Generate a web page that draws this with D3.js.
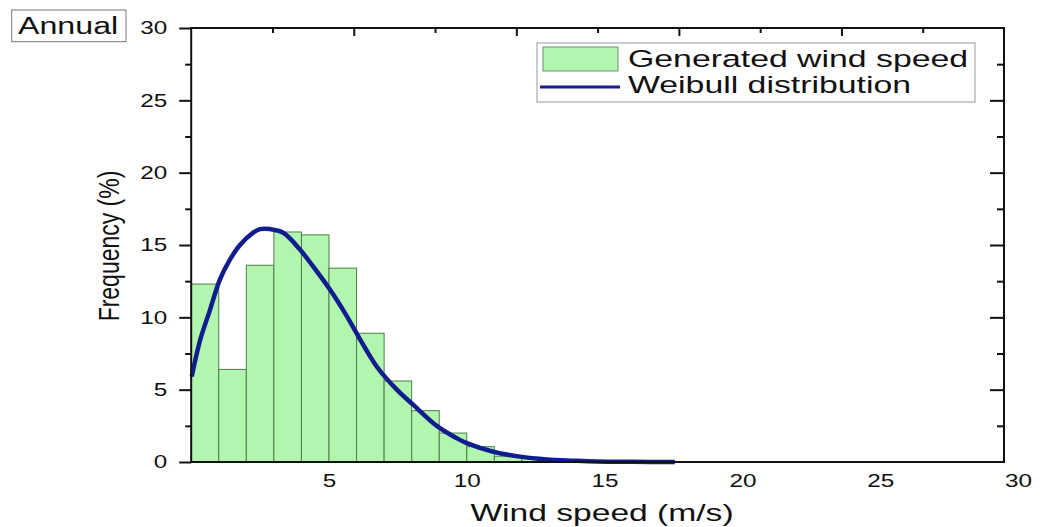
<!DOCTYPE html>
<html><head><meta charset="utf-8">
<script src="https://cdn.jsdelivr.net/npm/d3@7"></script>
<style>body{margin:0;background:#fff} text{font-family:"Liberation Sans",Arial,sans-serif;fill:#111}</style>
</head><body><svg id="c" width="1040" height="527"></svg>
<script>
// ---- data ----
const binStarts = [0,1,2,3,4,5,6,7,8,9,10,11,12,13];
const frequency = [12.3,6.4,13.6,15.9,15.7,13.4,8.9,5.6,3.55,2.0,1.06,0.4,0.25,0.08];
const weibullX = [0.02,0.32,0.68,1.04,1.41,1.77,2.25,2.5,2.86,3.34,3.94,4.43,5.04,5.64,6.12,6.73,7.46,8.06,8.91,9.63,10.0,10.96,11.93,12.9,13.86,14.71,16.0,17.55];
const weibullY = [5.9,8.4,10.5,12.6,14.0,15.0,15.85,16.1,16.1,15.85,14.7,13.5,11.9,10.1,8.5,6.6,5.0,3.95,2.5,1.65,1.3,0.71,0.37,0.18,0.09,0.03,0.01,0.0];
const xTickValues = [5,10,15,20,25,30];
const yTickValues = [0,5,10,15,20,25,30];
const yMinorTicks = [2.5,7.5,12.5,17.5,22.5,27.5];
const topMajor = [2,4,6,8];
const topMinor = [1,3,5,7,9];
const legendLabels = ["Generated wind speed","Weibull distribution"];
const panelLabel = "Annual";
const xTitle = "Wind speed (m/s)";
const yTitle = "Frequency (%)";

// ---- layout ----
const SX = 1.4;
const L = 191.2, R = 1004, T = 28, B = 462;
const svg = d3.select('#c');
const x = d3.scaleLinear().domain([0,30]).range([L,1018]);
const y = d3.scaleLinear().domain([0,30]).range([B,T]);
const xTop = d3.scaleLinear().domain([0,10]).range([L,R]);
const barFill = '#b2f5ae', barStroke = '#4f7d4f', curveColor = '#111c8f';

function stext(g, tx, ty, str, size, anchor, sx){
  return g.append('text').attr('transform',`translate(${tx},${ty}) scale(${sx||SX},1)`)
    .attr('text-anchor',anchor||'start').style('font-size',size+'px').text(str);
}

// bars
svg.append('g').selectAll('rect').data(binStarts).join('rect')
  .attr('x',(d)=>x(d)).attr('width',(d)=>x(d+1)-x(d))
  .attr('y',(d,i)=>y(frequency[i])).attr('height',(d,i)=>y(0)-y(frequency[i]))
  .attr('fill',barFill).attr('stroke',barStroke).attr('stroke-width',1);

// curve
const line = d3.line().x((d,i)=>x(weibullX[i])).y((d)=>y(d)).curve(d3.curveCatmullRom);
svg.append('path').datum(weibullY).attr('d',line).attr('fill','none')
  .attr('stroke',curveColor).attr('stroke-width',4.5).attr('stroke-linejoin','round');

// frame
svg.append('rect').attr('x',L).attr('y',T).attr('width',R-L).attr('height',B-T)
  .attr('fill','none').attr('stroke','#111').attr('stroke-width',2);

// left axis
const gl = svg.append('g').attr('transform',`translate(${L},0)`)
  .call(d3.axisLeft(y).tickValues(yTickValues).tickSize(12).tickPadding(12));
gl.select('.domain').remove();
gl.selectAll('line').attr('stroke','#111').attr('stroke-width',2);
gl.selectAll('text').style('font-size','18px').style('font-family','"Liberation Sans",Arial,sans-serif')
  .attr('fill','#111').attr('transform',`scale(1.35,1)`).attr('x',-24/1.35);
const glm = svg.append('g').attr('transform',`translate(${L},0)`)
  .call(d3.axisLeft(y).tickValues(yMinorTicks).tickSize(6).tickFormat(''));
glm.select('.domain').remove();
glm.selectAll('line').attr('stroke','#111').attr('stroke-width',2);

// right axis (inward)
const gr = svg.append('g').attr('transform',`translate(${R},0)`)
  .call(d3.axisLeft(y).tickValues(yTickValues.slice(1,-1)).tickSize(14).tickFormat(''));
gr.select('.domain').remove();
gr.selectAll('line').attr('stroke','#111').attr('stroke-width',2);
const grm = svg.append('g').attr('transform',`translate(${R},0)`)
  .call(d3.axisLeft(y).tickValues(yMinorTicks).tickSize(7).tickFormat(''));
grm.select('.domain').remove();
grm.selectAll('line').attr('stroke','#111').attr('stroke-width',2);

// top axis (inward)
const gt = svg.append('g').attr('transform',`translate(0,${T})`)
  .call(d3.axisBottom(xTop).tickValues(topMajor).tickSize(8).tickFormat(''));
gt.select('.domain').remove();
gt.selectAll('line').attr('stroke','#111').attr('stroke-width',2);
const gtm = svg.append('g').attr('transform',`translate(0,${T})`)
  .call(d3.axisBottom(xTop).tickValues(topMinor).tickSize(5).tickFormat(''));
gtm.select('.domain').remove();
gtm.selectAll('line').attr('stroke','#111').attr('stroke-width',2);

// bottom axis labels
const gb = svg.append('g').attr('transform',`translate(0,${B})`)
  .call(d3.axisBottom(x).tickValues(xTickValues).tickSize(0).tickPadding(12));
gb.select('.domain').remove();
gb.selectAll('text').style('font-size','18px').style('font-family','"Liberation Sans",Arial,sans-serif')
  .attr('fill','#111').attr('transform',`scale(1.35,1)`);

// titles
stext(svg, 602, 521, xTitle, 24, 'middle');
svg.append('text').attr('transform','translate(119,246) scale(1.25,1) rotate(-90)')
  .attr('text-anchor','middle').style('font-size','23px').text(yTitle);

// panel label
svg.append('rect').attr('x',11.7).attr('y',10).attr('width',114.3).attr('height',31.7)
  .attr('fill','none').attr('stroke','#777').attr('stroke-width',1);
stext(svg, 18, 34, panelLabel, 23, 'start');

// legend
const lg = svg.append('g');
lg.append('rect').attr('x',537).attr('y',43).attr('width',438).attr('height',59)
  .attr('fill','#fff').attr('stroke','#999').attr('stroke-width',1);
lg.append('rect').attr('x',543).attr('y',47).attr('width',75).attr('height',24)
  .attr('fill',barFill).attr('stroke','#6a8f6a').attr('stroke-width',1);
lg.append('line').attr('x1',540).attr('x2',620).attr('y1',87).attr('y2',87)
  .attr('stroke',curveColor).attr('stroke-width',3);
stext(lg, 628, 67, legendLabels[0], 24.5, 'start', 1.38);
stext(lg, 628, 93, legendLabels[1], 24.5, 'start', 1.38);
</script></body></html>
